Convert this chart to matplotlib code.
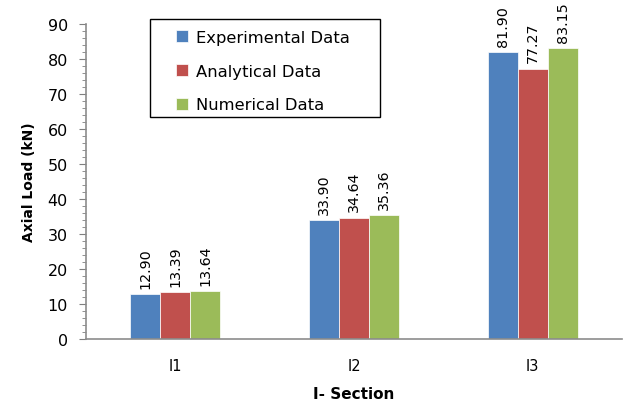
import matplotlib
matplotlib.use("Agg")
import matplotlib.pyplot as plt
import numpy as np
from matplotlib.ticker import MultipleLocator
from matplotlib.patches import Rectangle

categories = ["I1", "I2", "I3"]
experimental = [12.90, 33.90, 81.90]
analytical = [13.39, 34.64, 77.27]
numerical = [13.64, 35.36, 83.15]
series_names = ["Experimental Data", "Analytical Data", "Numerical Data"]
colors = ["#4F81BD", "#C0504D", "#9BBB59"]

plt.rcParams['font.family'] = ['DejaVu Sans']
fig = plt.figure(figsize=(6.24, 4.02), dpi=100)
ax = fig.add_axes([86/624, 62/402, 536/624, 315/402])

x = np.arange(len(categories))
w = 0.168
for i, (vals, name, c) in enumerate(zip([experimental, analytical, numerical], series_names, colors)):
    pos = x + (i - 1) * w
    ax.bar(pos, vals, width=w, color=c, label=name, edgecolor='white', linewidth=0.5)
    for p, v in zip(pos, vals):
        ax.text(p, v + 1.8, f"{v:.2f}", rotation=90, ha='center', va='bottom', fontsize=10.3)

ax.set_xlim(-0.5, 2.5)
ax.set_ylim(0, 90)
ax.yaxis.set_major_locator(MultipleLocator(10))
ax.yaxis.set_minor_locator(MultipleLocator(2))
ax.set_xticks(x)
ax.set_xticklabels(categories, fontsize=10.5)
ax.tick_params(axis='y', labelsize=11.5, colors='#7f7f7f', labelcolor='black', length=5,
               direction='out', pad=8)
ax.tick_params(axis='y', which='minor', length=3, colors='#7f7f7f')
ax.tick_params(axis='x', length=0, pad=14)
for s in ['top', 'right']:
    ax.spines[s].set_visible(False)
for s in ['left', 'bottom']:
    ax.spines[s].set_color('#8c8c8c')
    ax.spines[s].set_linewidth(1.2)

ax.set_ylabel("Axial Load (kN)", fontsize=10, fontweight='bold', labelpad=8)
ax.set_xlabel("I- Section", fontsize=11, fontweight='bold', labelpad=9)

ax.add_patch(Rectangle((150/624, 284/402), 230/624, 98/402, transform=fig.transFigure,
                       fill=True, facecolor='white', edgecolor='black', linewidth=1.0,
                       zorder=5, clip_on=False))
leg = ax.legend(loc='upper left', bbox_to_anchor=(176/624, 371/402),
                bbox_transform=fig.transFigure, frameon=False,
                fontsize=11.8, handlelength=0.75, handleheight=0.75,
                labelspacing=1.14, borderpad=0, handletextpad=0.45,
                borderaxespad=0)
leg.set_zorder(6)

fig.savefig("out.png", dpi=100)
